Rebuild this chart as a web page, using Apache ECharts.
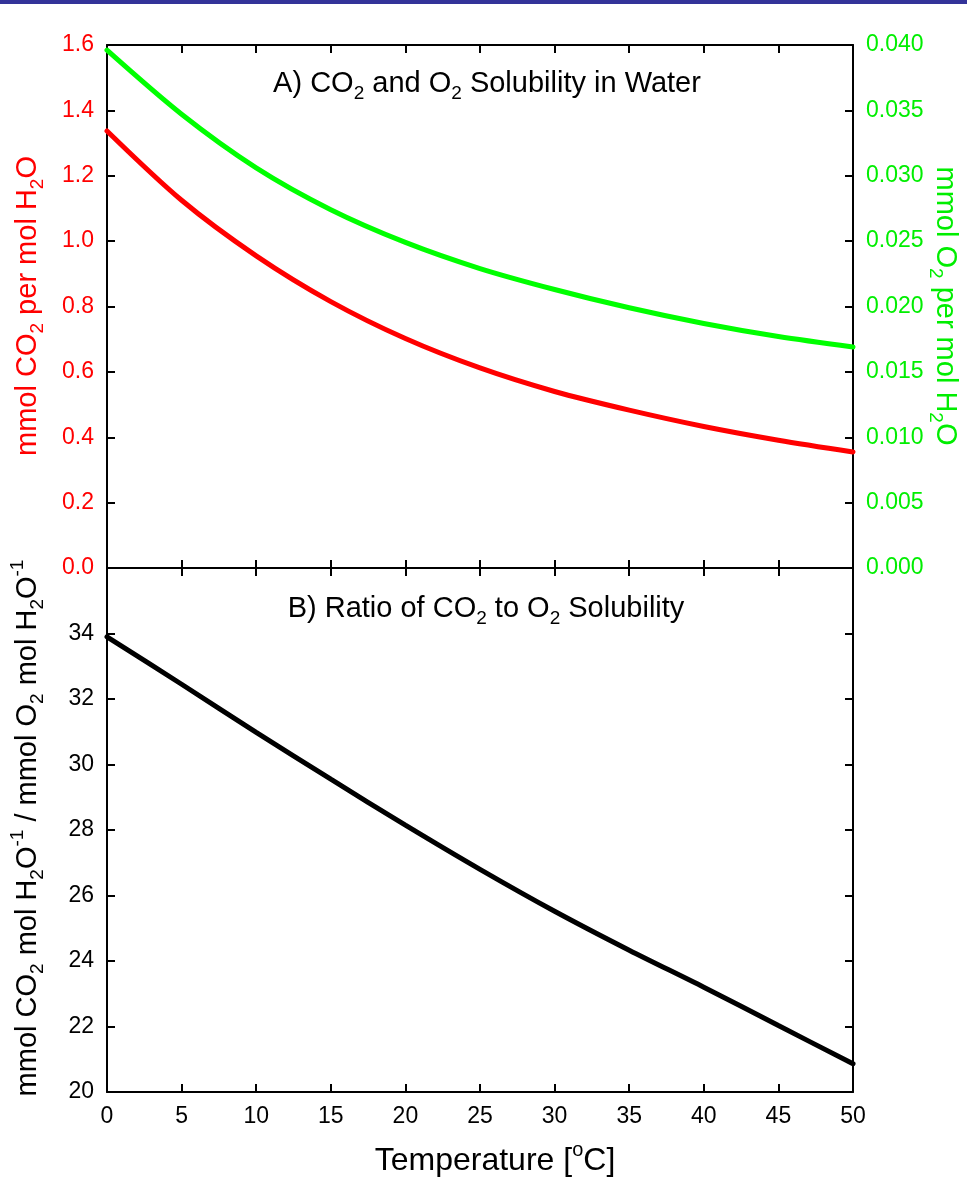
<!DOCTYPE html>
<html>
<head>
<meta charset="utf-8">
<script src="https://cdn.jsdelivr.net/npm/echarts@6/dist/echarts.min.js"></script>
<style>
  html, body { margin: 0; padding: 0; background: #fff; }
  #chart { width: 967px; height: 1179px; }
</style>
</head>
<body>
<div id="chart"></div>
<script>
// temperature in deg C
const temps = [0, 5, 10, 15, 20, 25, 30, 35, 40, 45, 50];
// mmol CO2 per mol H2O (left axis, panel A)
const co2 = [1.337, 1.125, 0.955, 0.815, 0.702, 0.612, 0.540, 0.483, 0.433, 0.391, 0.355];
// mmol O2 per mol H2O (right axis, panel A)
const o2 = [0.0396, 0.0347, 0.0306, 0.0274, 0.0249, 0.0229, 0.0213, 0.0199, 0.0187, 0.0177, 0.0169];
// ratio CO2 / O2 (panel B)
const ratio = [33.90, 32.45, 30.98, 29.55, 28.15, 26.80, 25.52, 24.33, 23.20, 22.03, 20.86];

const FONT = "'Liberation Sans', Arial, sans-serif";
const RED = '#ff0000';
const GREEN = '#00ee00';

const chart = echarts.init(document.getElementById('chart'), null, { renderer: 'canvas' });

const axisLine = { show: true, onZero: false, lineStyle: { color: '#000', width: 2 } };
const axisTick = { show: true, inside: true, length: 8, lineStyle: { color: '#000', width: 2 } };

// x axes: ticks on every border, labels only at the very bottom
const xBase = (grid, pos, labels) => ({
  type: 'value', gridIndex: grid, position: pos, min: 0, max: 50, interval: 5,
  axisLine, axisTick, splitLine: { show: false },
  axisLabel: { show: labels, color: '#000', fontSize: 23, fontFamily: FONT, margin: 13 }
});

const yBase = (grid, pos, min, max, interval, color, fmt) => ({
  type: 'value', gridIndex: grid, position: pos, min, max, interval,
  axisLine, axisTick, splitLine: { show: false },
  axisLabel: {
    show: !!fmt, color, fontSize: 23, fontFamily: FONT, margin: 13,
    formatter: fmt
  }
});

const pair = (ys) => temps.map((t, i) => [t, ys[i]]);

// rich text helpers for sub/superscripts
const rich = (size, color) => {
  const small = Math.round(size * 0.64);
  return {
    n: { fontSize: size, fontFamily: FONT, lineHeight: size + 10, fill: color, color },
    s: { fontSize: small, fontFamily: FONT, lineHeight: small, verticalAlign: 'bottom', fill: color, color },
    p: { fontSize: small, fontFamily: FONT, lineHeight: small, verticalAlign: 'top', fill: color, color }
  };
};

const label = (x, y, text, size, color, rotation) => ({
  type: 'text', x, y, rotation: rotation || 0, z: 100,
  style: {
    text, rich: rich(size, color), fill: color,
    fontSize: size, fontFamily: FONT,
    align: 'center', verticalAlign: 'middle'
  }
});

const lineSeries = (name, xi, yi, ys, color) => ({
  name, type: 'line', xAxisIndex: xi, yAxisIndex: yi, data: pair(ys),
  smooth: 0.3, showSymbol: false, symbol: 'none',
  lineStyle: { color, width: 5, cap: 'round' }
});

const option = {
  animation: false,
  backgroundColor: '#fff',
  grid: [
    { left: 107, top: 45, width: 746, height: 523 },
    { left: 107, top: 568, width: 746, height: 524 }
  ],
  xAxis: [
    xBase(0, 'bottom', false),
    xBase(0, 'top', false),
    xBase(1, 'top', false),
    xBase(1, 'bottom', true)
  ],
  yAxis: [
    yBase(0, 'left', 0, 1.6, 0.2, RED, v => v.toFixed(1)),
    yBase(0, 'right', 0, 0.04, 0.005, GREEN, v => v.toFixed(3)),
    yBase(1, 'left', 20, 36, 2, '#000', v => (Math.round(v) === 36 ? '' : String(Math.round(v)))),
    yBase(1, 'right', 20, 36, 2, '#000', null)
  ],
  series: [
    lineSeries('CO2', 0, 0, co2, RED),
    lineSeries('O2', 0, 1, o2, '#00ff00'),
    lineSeries('Ratio', 3, 2, ratio, '#000')
  ],
  graphic: [
    { type: 'rect', shape: { x: 0, y: 0, width: 967, height: 4 }, style: { fill: '#333399' } },
    label(487, 84, '{n|A) CO}{s|2}{n| and O}{s|2}{n| Solubility in Water}', 29, '#000'),
    label(486, 609, '{n|B) Ratio of CO}{s|2}{n| to O}{s|2}{n| Solubility}', 29, '#000'),
    label(495, 1161, '{n|Temperature [}{p|o}{n|C]}', 32, '#000'),
    label(28, 306, '{n|mmol CO}{s|2}{n| per mol H}{s|2}{n|O}', 29, RED, Math.PI / 2),
    label(945, 306, '{n|mmol O}{s|2}{n| per mol H}{s|2}{n|O}', 29, GREEN, -Math.PI / 2),
    label(28, 828, '{n|mmol CO}{s|2}{n| mol H}{s|2}{n|O}{p|-1}{n| / mmol O}{s|2}{n| mol H}{s|2}{n|O}{p|-1}', 29, '#000', Math.PI / 2)
  ]
};

chart.setOption(option);
</script>
</body>
</html>
